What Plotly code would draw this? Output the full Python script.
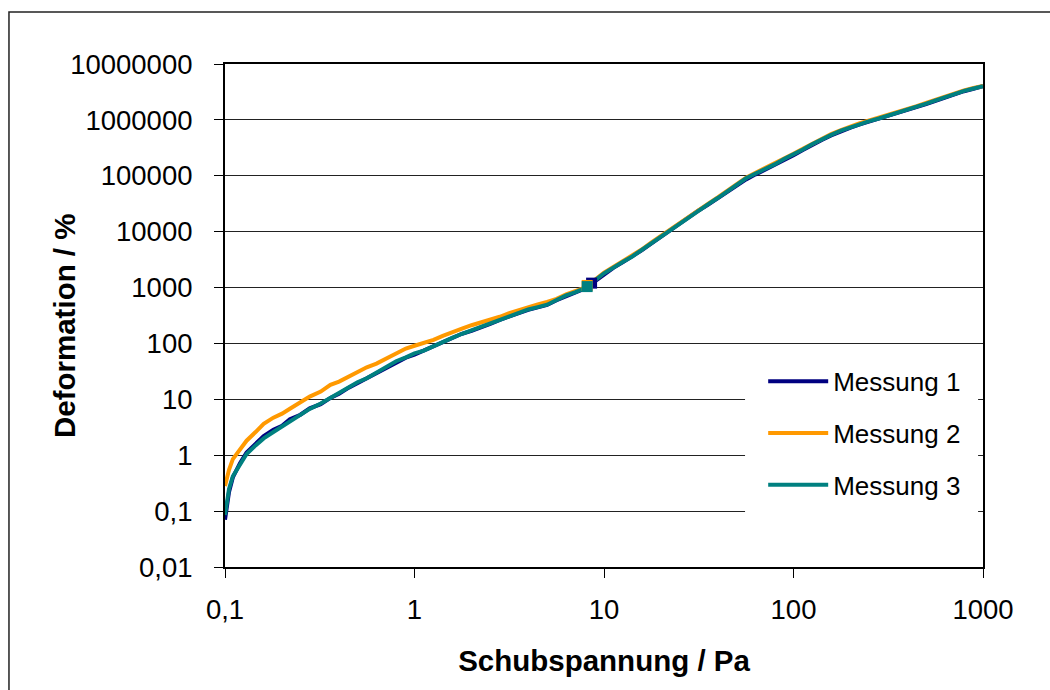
import plotly.graph_objects as go

# Shear stress sweep (Pa), shared by all three measurements
stress = [0.1, 0.105, 0.11, 0.12, 0.13, 0.145, 0.16, 0.18, 0.2, 0.22, 0.25, 0.28,
          0.32, 0.36, 0.4, 0.45, 0.5, 0.56, 0.63, 0.71, 0.8, 0.9, 1.0, 1.12,
          1.26, 1.41, 1.58, 1.78, 2.0, 2.24, 2.51, 2.82, 3.16, 3.55, 3.98, 4.47,
          5.01, 5.62, 6.31, 7.08, 7.94, 10, 11.2, 12.6, 14.1, 15.8, 17.8, 20,
          22.4, 25.1, 28.2, 31.6, 35.5, 39.8, 44.7, 50.1, 56.2, 63.1, 70.8, 79.4,
          89.1, 100, 112, 126, 141, 158, 178, 200, 224, 251, 282, 316,
          355, 398, 447, 501, 562, 631, 708, 794, 891, 1000]

# Deformation (%) per measurement
messung_1 = [0.07, 0.22, 0.40, 0.72, 1.12, 1.62, 2.20, 2.85, 3.35, 4.40, 5.30, 6.90,
             8.20, 10.6, 12.6, 16.2, 19.5, 24.8, 29.5, 37.8, 45.5, 55.5, 63.0, 74.5,
             86.0, 106, 121, 149, 168, 198, 224, 264, 298, 350, 400, 447,
             490, 592, 708, 822, 958, 1750, 2250, 2850, 3600, 4650, 6200, 8200,
             10600, 13800, 18500, 24000, 30500, 39500, 51000, 66000, 86000, 106000, 128000, 156000,
             192000, 232000, 288000, 362000, 438000, 528000, 628000, 728000, 835000, 935000, 1040000, 1170000,
             1320000, 1480000, 1660000, 1910000, 2180000, 2520000, 2880000, 3260000, 3600000, 4000000]

messung_2 = [0.28, 0.55, 0.85, 1.30, 1.82, 2.60, 3.65, 4.70, 5.55, 6.80, 8.70, 11.2,
             13.8, 18.2, 20.8, 25.5, 29.6, 37.5, 43.5, 53.5, 67.0, 81.0, 91.0, 101,
             116, 137, 161, 184, 212, 236, 270, 300, 347, 393, 455, 498,
             552, 628, 752, 858, 995, 1850, 2350, 2950, 3720, 4780, 6420, 8480,
             11000, 14300, 19200, 25000, 31800, 41000, 53500, 70000, 92000, 113000, 136000, 165000,
             205000, 248000, 305000, 380000, 462000, 556000, 655000, 762000, 875000, 975000, 1090000, 1220000,
             1390000, 1550000, 1760000, 2010000, 2300000, 2620000, 3000000, 3380000, 3720000, 4050000]

messung_3 = [0.085, 0.25, 0.42, 0.70, 1.05, 1.50, 2.00, 2.60, 3.25, 4.15, 5.35, 6.75,
             8.45, 10.6, 13.1, 15.9, 20.2, 23.8, 30.2, 36.8, 48.0, 56.5, 66.5, 74.5,
             90.5, 107, 126, 149, 173, 196, 227, 264, 306, 349, 406, 446,
             493, 598, 722, 828, 982, 1800, 2300, 2900, 3600, 4700, 6300, 8300,
             10800, 14000, 19000, 24500, 31000, 40000, 52000, 68000, 90000, 110000, 132000, 160000,
             200000, 240000, 296000, 370000, 450000, 540000, 642000, 742000, 852000, 950000, 1060000, 1190000,
             1350000, 1500000, 1700000, 1950000, 2240000, 2560000, 2940000, 3300000, 3650000, 4000000]

# Highlighted single points (yield onset) of each measurement
punkt_x = [8.6, 8.15, 8.15]
punkt_y = [1200, 1090, 1040]

names = ["Messung 1", "Messung 2", "Messung 3"]
colors = ["#000080", "#FF9900", "#008080"]
series = [messung_1, messung_2, messung_3]

y_ticks = [0.01, 0.1, 1, 10, 100, 1000, 10000, 100000, 1000000, 10000000]
y_tick_text = ["0,01", "0,1", "1", "10", "100", "1000", "10000", "100000", "1000000", "10000000"]
x_ticks = [0.1, 1, 10, 100, 1000]
x_tick_text = ["0,1", "1", "10", "100", "1000"]

fig = go.Figure()
for name, color, ys in zip(names, colors, series):
    fig.add_trace(go.Scatter(x=stress, y=ys, mode="lines", name=name, legendgroup=name,
                             line=dict(color=color, width=4)))
for i, color in enumerate(colors):
    fig.add_trace(go.Scatter(x=[punkt_x[i]], y=[punkt_y[i]], mode="markers",
                             showlegend=False, hoverinfo="skip", legendgroup=names[i],
                             marker=dict(symbol="square", size=11, color=color,
                                         line=dict(width=0))))

font_family = "Liberation Sans, Arial, sans-serif"

fig.update_layout(
    width=1050, height=690,
    margin=dict(l=225, r=67, t=64, b=123),
    paper_bgcolor="white", plot_bgcolor="white",
    font=dict(family=font_family, color="black", size=26),
    showlegend=True,
    legend=dict(x=0.710, y=0.416, xanchor="left", yanchor="top",
                bgcolor="rgba(0,0,0,0)", borderwidth=0,
                font=dict(size=26, family=font_family),
                tracegroupgap=15, itemwidth=60),
    xaxis=dict(type="log", range=[-1, 3], tickvals=x_ticks, ticktext=x_tick_text,
               showgrid=False, showline=True, linecolor="black", linewidth=2,
               mirror=True, ticks="outside", ticklen=9, tickcolor="black",
               tickfont=dict(size=27.5), ticklabelstandoff=8,
               title=dict(text="<b>Schubspannung / Pa</b>", font=dict(size=29.5), standoff=26),
               zeroline=False),
    yaxis=dict(type="log", range=[-2, 7], tickvals=y_ticks, ticktext=y_tick_text,
               showgrid=True, gridcolor="#222222", gridwidth=1,
               showline=True, linecolor="black", linewidth=2,
               mirror=True, ticks="outside", ticklen=9, tickcolor="black",
               tickfont=dict(size=27.5), ticklabelstandoff=16,
               zeroline=False),
)

# Y axis title
fig.add_annotation(text="<b>Deformation / %</b>", xref="paper", yref="paper",
                   x=-0.2124, y=0.479, xanchor="center", yanchor="middle",
                   textangle=-90, showarrow=False,
                   font=dict(size=29.5, family=font_family, color="black"))

# Legend area: white panel that interrupts the grid lines
fig.add_shape(type="rect", xref="x", yref="y", layer="between",
              x0=55.5, x1=942, y0=0.0586, y1=63.7,
              line=dict(width=0), fillcolor="white")

# Outer chart frame
fig.add_shape(type="rect", xref="paper", yref="paper",
              x0=-0.285, y0=-0.4, x1=1.2, y1=1.1035,
              line=dict(color="#222222", width=1.5), fillcolor="rgba(0,0,0,0)")

fig.write_html("out.html")
